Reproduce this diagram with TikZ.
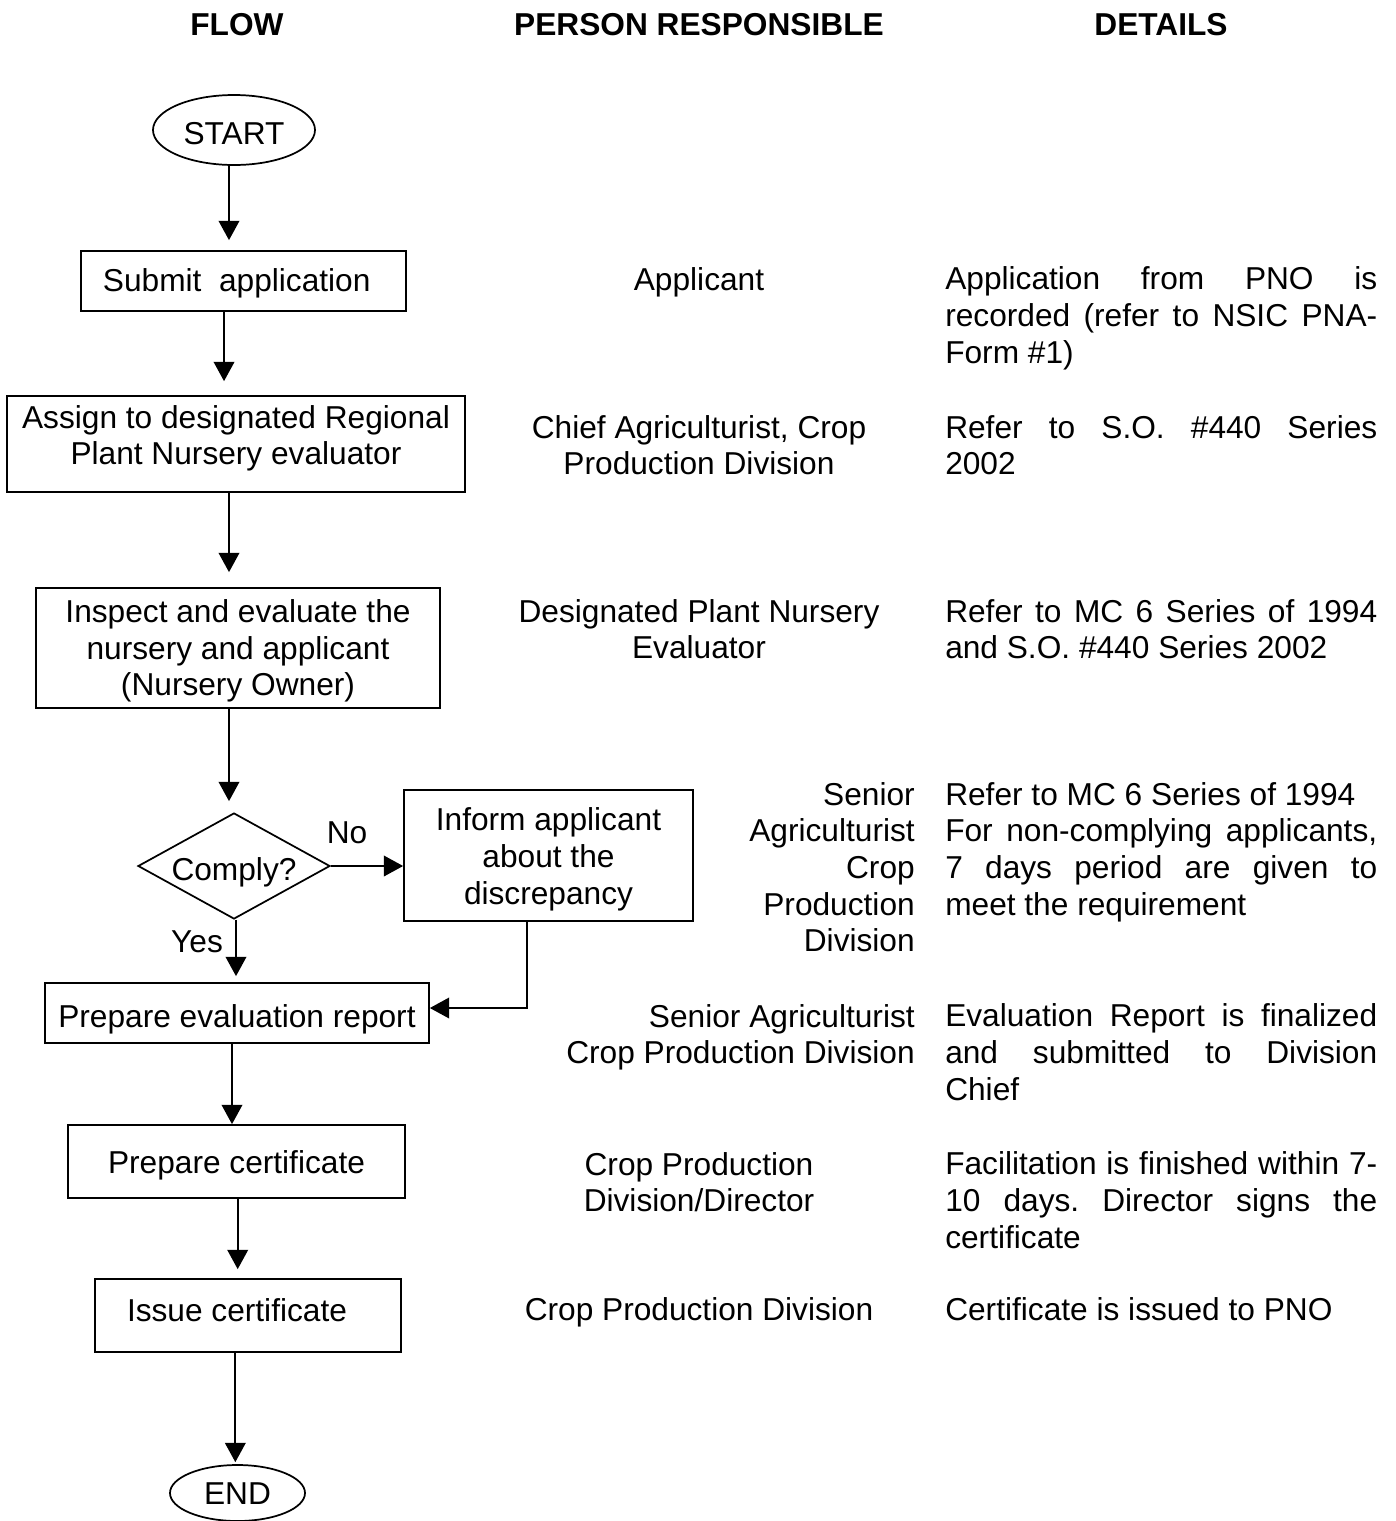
\documentclass[tikz,border=0pt]{standalone}
\usepackage{fontspec}
\setmainfont{Liberation Sans}
\usetikzlibrary{arrows.meta,shapes.geometric}
\newcommand\J[1]{\makebox[324pt][s]{#1}}
\frenchspacing
\begin{document}
\begin{tikzpicture}[x=0.75pt,y=-0.75pt,
  every node/.style={font=\fontsize{23.75pt}{27.5pt}\selectfont, inner sep=0pt},
  box/.style={draw, line width=1.3pt, rectangle, align=center},
  term/.style={draw, line width=1.3pt, ellipse},
  decision/.style={draw, line width=1.3pt, diamond, aspect=1.83},
  arr/.style={line width=1.3pt, -{Triangle[length=14.5pt,width=15.5pt]}},
  ctxt/.style={anchor=base, align=center},
  rtxt/.style={anchor=base east, align=right},
  ltxt/.style={anchor=base west, align=left},
  hdr/.style={anchor=base, font=\fontsize{23.75pt}{27.5pt}\selectfont\bfseries}]
\useasboundingbox (0,0) rectangle (1396,1521);

% headers
\node[hdr] (h1) at (237,35) {FLOW};
\node[hdr] (h2) at (699,35) {PERSON RESPONSIBLE};
\node[hdr] (h3) at (1161,35) {DETAILS};

% flow nodes
\node[term, minimum width=121.5pt, minimum height=52.5pt, text height=21pt, text depth=0pt] (start) at (234,130) {START};
\node[box, minimum width=243.75pt, minimum height=45pt, text height=15pt, text depth=0pt] (submit) at (243.5,281) {Submit\ \ application\hspace{10.2pt}};
\node[box, minimum width=343.5pt, minimum height=72pt] (assign) at (236,444) {Assign to designated Regional\\Plant Nursery evaluator\rule[-13.4pt]{0pt}{0pt}};
\node[box, minimum width=303pt, minimum height=90pt] (inspect) at (238,648) {\rule{0pt}{21.5pt}Inspect and evaluate the\\nursery and applicant\\(Nursery Owner)};
\node[decision, minimum width=144pt, minimum height=79.5pt, text height=21pt, text depth=0pt] (comply) at (234,866) {Comply?};
\node[box, minimum width=216.75pt, minimum height=98.25pt] (inform) at (548.5,855.5) {\rule{0pt}{23pt}Inform applicant\\about the\\discrepancy};
\node[box, minimum width=288pt, minimum height=45pt, text height=21pt, text depth=0pt] (evalrep) at (237,1013) {Prepare evaluation report};
\node[box, minimum width=252.75pt, minimum height=54.75pt, text height=17.25pt, text depth=0pt] (cert) at (236.5,1161.5) {Prepare certificate};
\node[box, minimum width=229.5pt, minimum height=54.75pt, text height=8.25pt, text depth=0pt] (issue) at (248,1315.5) {Issue certificate\hspace{16.5pt}};
\node[term, minimum width=101.25pt, minimum height=42pt, text height=16.5pt, text depth=0pt] (stop) at (237.5,1493) {END};

% decision labels
\node[anchor=base] (no) at (347,843) {No};
\node[anchor=base] (yes) at (197,952) {Yes};

% connectors
\coordinate (c1) at ([xshift=-3.75pt]start.south);
\coordinate (c2) at ([xshift=-14.6pt]submit.south);
\coordinate (c3) at ([xshift=-5.25pt]assign.south);
\coordinate (c4) at ([xshift=-6.75pt]inspect.south);
\coordinate (c6) at ([xshift=1.5pt]comply.south);
\coordinate (c7) at ([xshift=-16.1pt]inform.south);
\coordinate (c7b) at ([yshift=3.75pt]evalrep.east);
\coordinate (c8) at ([xshift=-3.75pt]evalrep.south);
\coordinate (c9) at ([xshift=0.9pt]cert.south);
\coordinate (c10) at ([xshift=-9.5pt]issue.south);

\draw[arr, shorten >=7.5pt] (c1) -- (c1 |- submit.north);
\draw[arr, shorten >=10.5pt] (c2) -- (c2 |- assign.north);
\draw[arr, shorten >=11.25pt] (c3) -- (c3 |- inspect.north);
\draw[arr, shorten >=8.25pt] (c4) -- (c4 |- comply.north);
\draw[arr] (comply.east) -- (comply.east -| inform.west);
\draw[arr, shorten >=4.5pt] (c6) -- (c6 |- evalrep.north);
\draw[arr] (c7) |- (c7b);
\draw[arr] (c8) -- (c8 |- cert.north);
\draw[arr, shorten >=6.75pt] (c9) -- (c9 |- issue.north);
\draw[arr, shorten >=1.5pt] (c10) -- (c10 |- stop.north);

% person responsible (multi-line nodes: base = last line)
\node[ctxt] (p1) at (699,290) {Applicant};
\node[ctxt] (p2) at (699,474.7) {Chief Agriculturist, Crop\\Production Division};
\node[ctxt] (p3) at (699,658.7) {Designated Plant Nursery\\Evaluator};
\node[rtxt] (p4) at (915,951.7) {Senior\\Agriculturist\\Crop\\Production\\Division};
\node[rtxt] (p5) at (915,1063.7) {Senior Agriculturist\\Crop Production Division};
\node[ctxt] (p6) at (699,1211.7) {Crop Production\\Division/Director};
\node[ctxt] (p7) at (699,1320) {Crop Production Division};

% details
\node[ltxt] (d1) at (945,363.3) {\J{Application from PNO is}\\\J{recorded (refer to NSIC PNA-}\\Form \#1)};
\node[ltxt] (d2) at (945,474.7) {\J{Refer to S.O. \#440 Series}\\2002};
\node[ltxt] (d3) at (945,658.7) {\J{Refer to MC 6 Series of 1994}\\and S.O. \#440 Series 2002};
\node[ltxt] (d4) at (945,915) {Refer to MC 6 Series of 1994\\\J{For non-complying applicants,}\\\J{7 days period are given to}\\meet the requirement};
\node[ltxt] (d5) at (945,1100.3) {\J{Evaluation Report is finalized}\\\J{and submitted to Division}\\Chief};
\node[ltxt] (d6) at (945,1248.3) {\J{Facilitation is finished within 7-}\\\J{10 days. Director signs the}\\certificate};
\node[ltxt] (d7) at (945,1320) {Certificate is issued to PNO};
\end{tikzpicture}
\end{document}
